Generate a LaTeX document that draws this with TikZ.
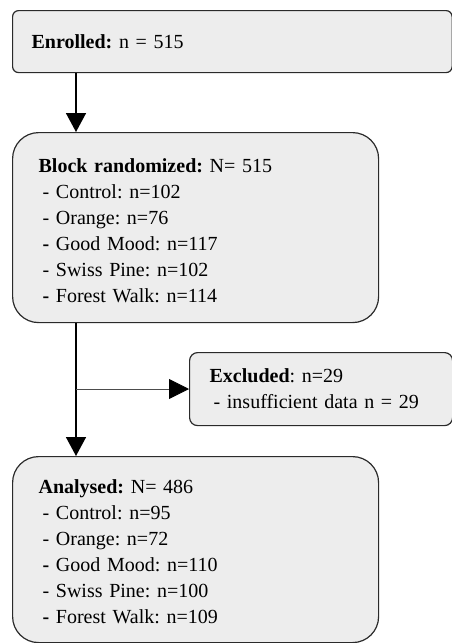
\documentclass[tikz,border=0pt]{standalone}
\usepackage{fontspec}
\setmainfont{Liberation Serif}
\usetikzlibrary{arrows.meta}
\definecolor{boxfill}{HTML}{EDEDED}
\definecolor{boxline}{HTML}{2A2A2A}
\frenchspacing
\begin{document}
\begin{tikzpicture}[x=1pt,y=-1pt,
  box/.style={draw=boxline, fill=boxfill, line width=1.2pt, anchor=north west,
    align=left, inner sep=0pt, font=\fontsize{20}{26}\selectfont\frenchspacing},
  mainarr/.style={line width=1.5pt, draw=black, -{Triangle[length=19pt,width=20pt]}},
  sidearr/.style={line width=0.8pt, draw=black!70, -{Triangle[length=20pt,width=20pt,color=black]}}]
\useasboundingbox (0,0) rectangle (452,643);
\node[box, rounded corners=6pt, minimum width=439.5pt, minimum height=62pt,
  text width=439.5pt] (enr) at (12,10) {\hspace*{19pt}\textbf{Enrolled:} n = 515};
\node[box, rounded corners=26pt, minimum width=366pt, minimum height=190pt,
  text width=366pt] (blk) at (12,132) {\hspace*{26pt}\parbox[c]{330pt}{\vspace*{6pt}\textbf{Block randomized:} N= 515\\
 \hspace*{4pt}- Control: n=102\\
 \hspace*{4pt}- Orange: n=76\\
 \hspace*{4pt}\textbf{-} Good Mood: n=117\\
 \hspace*{4pt}- Swiss Pine: n=102\\
 \hspace*{4pt}\textbf{-} Forest Walk: n=114}};
\node[box, rounded corners=8pt, minimum width=263pt, minimum height=73pt,
  text width=263pt] (exc) at (189,352) {\hspace*{20pt}\parbox[c]{240pt}{\textbf{Excluded}: n=29\\
 \hspace*{4pt}- insufficient data n = 29}};
\node[box, rounded corners=26pt, minimum width=366pt, minimum height=186pt,
  text width=366pt] (ana) at (12,456) {\hspace*{26pt}\parbox[c]{330pt}{\vspace*{4pt}\textbf{Analysed:} N= 486\\
 \hspace*{4pt}- Control: n=95\\
 \hspace*{4pt}- Orange: n=72\\
 \hspace*{4pt}\textbf{-} Good Mood: n=110\\
 \hspace*{4pt}- Swiss Pine: n=100\\
 \hspace*{4pt}\textbf{-} Forest Walk: n=109}};
\coordinate (col) at (76,0);
\coordinate (br) at (76,389);
\draw[mainarr] (enr.south west -| col) -- (blk.north west -| col);
\draw[mainarr] (blk.south west -| col) -- (ana.north west -| col);
\draw[sidearr] (br) -- (exc.west |- br);
\end{tikzpicture}
\end{document}
